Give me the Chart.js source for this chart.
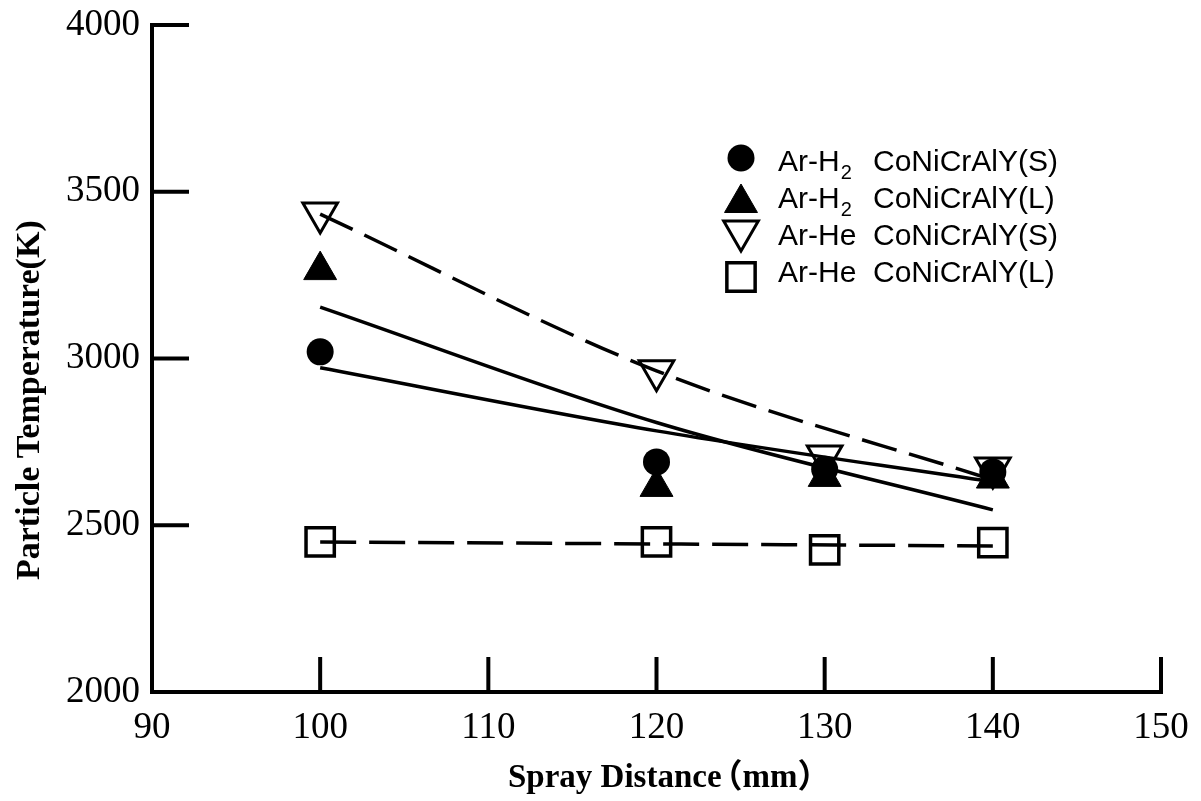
<!DOCTYPE html>
<html>
<head>
<meta charset="utf-8">
<script src="https://cdn.jsdelivr.net/npm/chart.js@4.4.1/dist/chart.umd.min.js"></script>
<style>
  html, body { margin: 0; padding: 0; background: #ffffff; }
  #wrap { width: 1201px; height: 801px; position: relative; }
</style>
</head>
<body>
<div id="wrap"><canvas id="c" width="1201" height="801"></canvas></div>
<script>
// ---------- data ----------
const distances = [100, 120, 130, 140];              // Spray distance (mm)
const arH2_S = [3020, 2690, 2668, 2660];             // ● Ar-H2 CoNiCrAlY(S)
const arH2_L = [3265, 2615, 2645, 2640];             // ▲ Ar-H2 CoNiCrAlY(L)
const arHe_S = [3436, 2963, 2708, 2672];             // ▽ Ar-He CoNiCrAlY(S)
const arHe_L = [2450, 2450, 2426, 2448];             // □ Ar-He CoNiCrAlY(L)

// trend lines
const fitX = [100, 120, 140];
const fitH2_S = [2972, 2783, 2630];
const fitH2_L = [3154, 2808, 2546];
const fitHe_S = [3433, 2963, 2636];
const fitHeL_X = [100, 140];
const fitHe_L = [2450, 2438];

const seriesLabels = [
  'Ar-H₂  CoNiCrAlY(S)',
  'Ar-H₂  CoNiCrAlY(L)',
  'Ar-He  CoNiCrAlY(S)',
  'Ar-He  CoNiCrAlY(L)'
];
const xTicks = [90, 100, 110, 120, 130, 140, 150];
const yTicks = [2000, 2500, 3000, 3500, 4000];
const xTitleMain = 'Spray Distance';
const xTitleUnit = '（mm）';
const yTitle = 'Particle Temperature(K)';

// ---------- helpers ----------
const pts = (xs, ys) => xs.map((x, i) => ({ x: x, y: ys[i] }));

const markerSets = [
  { label: seriesLabels[0], data: pts(distances, arH2_S), pointStyle: 'circle', pointRadius: 13.5,
    backgroundColor: '#000', borderColor: '#000', pointBorderWidth: 0, showLine: false },
  { label: seriesLabels[1], data: pts(distances, arH2_L), pointStyle: 'triangle', pointRadius: 19,
    backgroundColor: '#000', borderColor: '#000', pointBorderWidth: 1, showLine: false },
  { label: seriesLabels[2], data: pts(distances, arHe_S), pointStyle: 'triangle', pointRotation: 180, pointRadius: 20,
    backgroundColor: 'rgba(0,0,0,0)', borderColor: '#000', pointBorderWidth: 3, showLine: false },
  { label: seriesLabels[3], data: pts(distances, arHe_L), pointStyle: 'rect', pointRadius: 20,
    backgroundColor: 'rgba(0,0,0,0)', borderColor: '#000', pointBorderWidth: 3.5, showLine: false }
];

const lineBase = { showLine: true, pointRadius: 0, borderColor: '#000', borderWidth: 3.5,
  backgroundColor: 'rgba(0,0,0,0)', cubicInterpolationMode: 'monotone', fill: false, isFit: true };

const fitSets = [
  Object.assign({}, lineBase, { label: 'fit ' + seriesLabels[0], data: pts(fitX, fitH2_S) }),
  Object.assign({}, lineBase, { label: 'fit ' + seriesLabels[1], data: pts(fitX, fitH2_L) }),
  Object.assign({}, lineBase, { label: 'fit ' + seriesLabels[2], data: pts(fitX, fitHe_S), borderDash: [36, 13] }),
  Object.assign({}, lineBase, { label: 'fit ' + seriesLabels[3], data: pts(fitHeL_X, fitHe_L), borderDash: [36, 13] })
];

// ---------- plugins ----------
const axesPlugin = {
  id: 'axesPlugin',
  afterDatasetsDraw(chart) {
    const ctx = chart.ctx;
    const { left, right, top, bottom } = chart.chartArea;
    const xs = chart.scales.x, ys = chart.scales.y;
    ctx.save();
    ctx.strokeStyle = '#000';
    ctx.lineWidth = 4;
    ctx.lineJoin = 'miter';
    ctx.lineCap = 'butt';
    ctx.beginPath();
    ctx.moveTo(left, top - 2);
    ctx.lineTo(left, bottom);
    ctx.lineTo(right + 2, bottom);
    ctx.stroke();
    ctx.beginPath();
    ys.ticks.forEach(t => {
      if (t.value === ys.min) return;
      const py = ys.getPixelForValue(t.value);
      ctx.moveTo(left, py); ctx.lineTo(left + 37, py);
    });
    xs.ticks.forEach(t => {
      if (t.value === xs.min) return;
      const px = xs.getPixelForValue(t.value);
      ctx.moveTo(px, bottom); ctx.lineTo(px, bottom - 35);
    });
    ctx.stroke();

    // axis titles
    ctx.fillStyle = '#000';
    ctx.font = 'bold 33px "Liberation Serif", "Noto Sans CJK SC", serif';
    ctx.textAlign = 'left';
    ctx.textBaseline = 'alphabetic';
    ctx.fillText(xTitleMain, 508, 787);
    const wMain = ctx.measureText(xTitleMain).width;
    ctx.fillText(xTitleUnit, 508 + wMain - 12, 787);
    ctx.save();
    ctx.translate(39, 580);
    ctx.rotate(-Math.PI / 2);
    ctx.font = 'bold 34px "Liberation Serif", serif';
    ctx.fillText(yTitle, 0, 0);
    ctx.restore();
    ctx.restore();
  }
};

const legendPlugin = {
  id: 'legendPlugin',
  afterDatasetsDraw(chart) {
    const ctx = chart.ctx;
    const items = chart.data.datasets.filter(d => !d.isFit);
    const markerX = 741, textX = 778, alloyX = 873, rowY0 = 163, rowStep = 37;
    const markerDy = [-5, 3, -6, 3];
    const font = '30px "Liberation Sans", Arial, sans-serif';
    ctx.save();
    items.forEach((d, i) => {
      const y = rowY0 + i * rowStep;
      ctx.fillStyle = d.backgroundColor;
      ctx.strokeStyle = d.borderColor;
      ctx.lineWidth = d.pointBorderWidth;
      Chart.helpers.drawPoint(ctx, {
        pointStyle: d.pointStyle, radius: d.pointRadius, rotation: d.pointRotation || 0,
        borderWidth: d.pointBorderWidth
      }, markerX, y + markerDy[i]);
      const parts = d.label.split('  ');
      const gas = parts[0], alloy = parts[1];
      ctx.fillStyle = '#000';
      ctx.textAlign = 'left';
      ctx.textBaseline = 'middle';
      ctx.font = font;
      if (gas.indexOf('₂') >= 0) {
        const base = gas.replace('₂', '');
        ctx.fillText(base, textX, y);
        const w = ctx.measureText(base).width;
        ctx.font = '20px "Liberation Sans", Arial, sans-serif';
        ctx.fillText('2', textX + w + 1, y + 10);
        ctx.font = font;
      } else {
        ctx.fillText(gas, textX, y);
      }
      ctx.fillText(alloy, alloyX, y);
    });
    ctx.restore();
  }
};

// ---------- chart ----------
const tickFont = { family: '"Liberation Serif", "Times New Roman", serif', size: 37 };

new Chart(document.getElementById('c'), {
  type: 'scatter',
  data: { datasets: markerSets.concat(fitSets) },
  options: {
    responsive: false,
    animation: false,
    devicePixelRatio: 1,
    events: [],
    layout: { padding: { left: 0, right: 40, top: 25, bottom: 0 } },
    plugins: { legend: { display: false }, tooltip: { enabled: false }, title: { display: false } },
    scales: {
      x: {
        type: 'linear', min: 90, max: 150,
        afterBuildTicks: s => { s.ticks = xTicks.map(v => ({ value: v })); },
        afterFit: s => { s.height = 109; s.paddingLeft = 0; s.paddingRight = 0; },
        grid: { display: false, drawTicks: false },
        border: { display: false },
        ticks: { font: tickFont, color: '#000', padding: 14, maxRotation: 0, autoSkip: false,
                 callback: v => String(v) }
      },
      y: {
        type: 'linear', min: 2000, max: 4000,
        afterBuildTicks: s => { s.ticks = yTicks.map(v => ({ value: v })); },
        afterFit: s => { s.width = 152; s.paddingTop = 0; s.paddingBottom = 0; },
        grid: { display: false, drawTicks: false },
        border: { display: false },
        ticks: { font: tickFont, color: '#000', padding: 12, callback: v => String(v) }
      }
    }
  },
  plugins: [axesPlugin, legendPlugin]
});
</script>
</body>
</html>
